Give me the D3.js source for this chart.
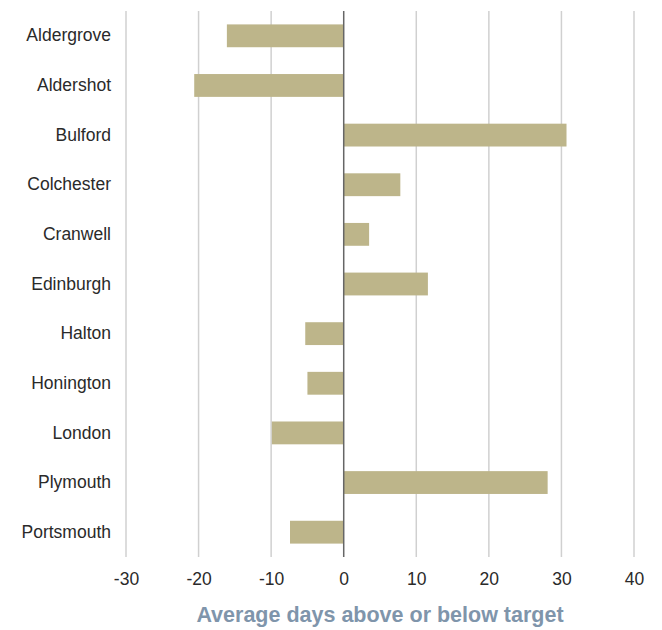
<!DOCTYPE html>
<html>
<head>
<meta charset="utf-8">
<script src="https://cdn.jsdelivr.net/npm/d3@7"></script>
<style>
  html, body { margin: 0; padding: 0; background: #fff; }
  svg text { font-family: "Liberation Sans", Arial, Helvetica, sans-serif; }
</style>
</head>
<body>
<svg id="chart" width="662" height="630"></svg>
<script>
// Garrison locations and average days above (+) or below (-) target
const categories = ["Aldergrove", "Aldershot", "Bulford", "Colchester", "Cranwell",
  "Edinburgh", "Halton", "Honington", "London", "Plymouth", "Portsmouth"];
const values = [-16.1, -20.6, 30.7, 7.8, 3.5, 11.6, -5.3, -5.0, -9.9, 28.1, -7.4];
const xTicks = [-30, -20, -10, 0, 10, 20, 30, 40];
const axisTitle = "Average days above or below target";

const svg = d3.select("#chart");
const margin = { top: 11, left: 126, right: 28, bottom: 72 };
const W = 662, H = 630;

const x = d3.scaleLinear().domain([-30, 40]).range([margin.left, W - margin.right]);
const y = d3.scaleBand().domain(categories)
  .range([margin.top, H - margin.bottom - 1])
  .paddingInner(0.54).paddingOuter(0.27);

// vertical gridlines
svg.append("g").selectAll("line")
  .data(xTicks.filter(t => t !== 0))
  .join("line")
  .attr("x1", d => x(d)).attr("x2", d => x(d))
  .attr("y1", margin.top).attr("y2", H - margin.bottom - 1)
  .attr("stroke", "#d0d0d0").attr("stroke-width", 1.5);

// bars
svg.append("g").selectAll("rect")
  .data(categories.map((c, i) => ({ c, v: values[i] })))
  .join("rect")
  .attr("x", d => Math.min(x(0), x(d.v)))
  .attr("width", d => Math.abs(x(d.v) - x(0)))
  .attr("y", d => y(d.c))
  .attr("height", y.bandwidth())
  .attr("fill", "#bdb58a");

// zero line
svg.append("line")
  .attr("x1", x(0)).attr("x2", x(0))
  .attr("y1", margin.top).attr("y2", H - margin.bottom - 1)
  .attr("stroke", "#666").attr("stroke-width", 1.5);

// category labels
const yAxis = svg.append("g")
  .attr("transform", `translate(${margin.left - 15},0)`)
  .call(d3.axisLeft(y).tickSize(0).tickPadding(0));
yAxis.select(".domain").remove();
yAxis.selectAll("text")
  .attr("font-size", 17.5).attr("fill", "#2a2a2a")
  .style("font-family", "'Liberation Sans', Arial, sans-serif");

// x tick labels (plain hyphen for negatives)
const xAxis = svg.append("g")
  .attr("transform", `translate(0,${H - margin.bottom + 15})`)
  .call(d3.axisBottom(x).tickValues(xTicks).tickSize(0).tickPadding(0).tickFormat(d => String(d)));
xAxis.select(".domain").remove();
xAxis.selectAll("text")
  .attr("font-size", 17.5).attr("fill", "#2a2a2a")
  .style("font-family", "'Liberation Sans', Arial, sans-serif");

// axis title
svg.append("text")
  .attr("x", (x(-30) + x(40)) / 2)
  .attr("y", 622)
  .attr("text-anchor", "middle")
  .attr("font-size", 21.5)
  .attr("font-weight", "bold")
  .attr("fill", "#7f95ab")
  .text(axisTitle);
</script>
</body>
</html>
